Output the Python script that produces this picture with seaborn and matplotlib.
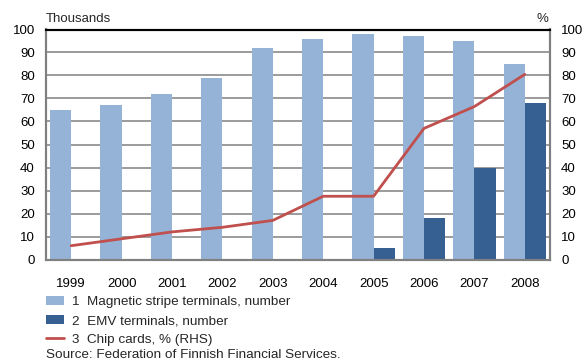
import numpy as np
import pandas as pd
import matplotlib
matplotlib.use("Agg")
import matplotlib.pyplot as plt
import seaborn as sns
from matplotlib.patches import Patch
from matplotlib.lines import Line2D

years = ["1999", "2000", "2001", "2002", "2003", "2004", "2005", "2006", "2007", "2008"]
magnetic = [65, 67, 72, 79, 92, 96, 98, 97, 95, 85]
emv = [0, 0, 0, 0, 0, 0, 5, 18, 40, 68]
chip_pct = [6, 9, 12, 14, 17, 27.5, 27.5, 57, 66.5, 80.5]
series_names = ["1  Magnetic stripe terminals, number",
                "2  EMV terminals, number",
                "3  Chip cards, % (RHS)"]

c_mag = "#95B3D7"
c_emv = "#366092"
c_chip = "#C0504D"
grey = "#808080"

sns.set_theme(style="white")
plt.rcParams["font.family"] = ["Liberation Sans", "DejaVu Sans"]

df = pd.DataFrame({
    "year": years * 2,
    "value": magnetic + emv,
    "series": [series_names[0]] * len(years) + [series_names[1]] * len(years),
})

fig = plt.figure(figsize=(5.86, 3.63), dpi=100)
ax = fig.add_axes([46 / 586, 1 - 259.5 / 363, 504 / 586, 230 / 363])

sns.barplot(data=df, x="year", y="value", hue="series",
            palette=[c_mag, c_emv], width=0.84, ax=ax,
            saturation=1, legend=False, edgecolor="none")

ax.set_ylim(0, 100)
ax.set_xlim(-0.5, len(years) - 0.5)
ax.set_yticks(range(0, 101, 10))
ax.set_xlabel("")
ax.set_ylabel("")
ax.yaxis.grid(True, color=grey, linewidth=1.1)
ax.set_axisbelow(True)
ax.tick_params(axis="y", length=0, pad=8, labelsize=9.5, colors="black")
ax.tick_params(axis="x", length=0, pad=13, labelsize=9.5, colors="black")

ax2 = ax.twinx()
sns.lineplot(x=np.arange(len(years)), y=chip_pct, ax=ax2,
             color=c_chip, linewidth=2.0)
ax2.set_ylim(0, 100)
ax2.set_yticks(range(0, 101, 10))
ax2.tick_params(axis="y", length=0, pad=8, labelsize=9.5, colors="black")
ax2.set_ylabel("")

for a in (ax, ax2):
    for side in ("left", "right", "bottom"):
        a.spines[side].set_color(grey)
        a.spines[side].set_linewidth(1.5)
    a.spines["top"].set_color("black")
    a.spines["top"].set_linewidth(1.5)

fig.text(46 / 586, 1 - 22 / 363, "Thousands", fontsize=9.5, ha="left", va="baseline")
fig.text(548 / 586, 1 - 22 / 363, "%", fontsize=9.5, ha="right", va="baseline")

handles = [Patch(facecolor=c_mag, edgecolor="none"),
           Patch(facecolor=c_emv, edgecolor="none"),
           Line2D([], [], color=c_chip, linewidth=2)]
fig.legend(handles, series_names, loc="upper left",
           bbox_to_anchor=(41 / 586, 1 - 291 / 363), frameon=False,
           fontsize=9.7, handlelength=1.3, handleheight=0.6,
           handletextpad=0.6, labelspacing=0.5, borderaxespad=0)

fig.text(46 / 586, 1 - 355.5 / 363, "Source: Federation of Finnish Financial Services.",
         fontsize=9.7, ha="left", va="center")

fig.savefig("out.png", dpi=100)
